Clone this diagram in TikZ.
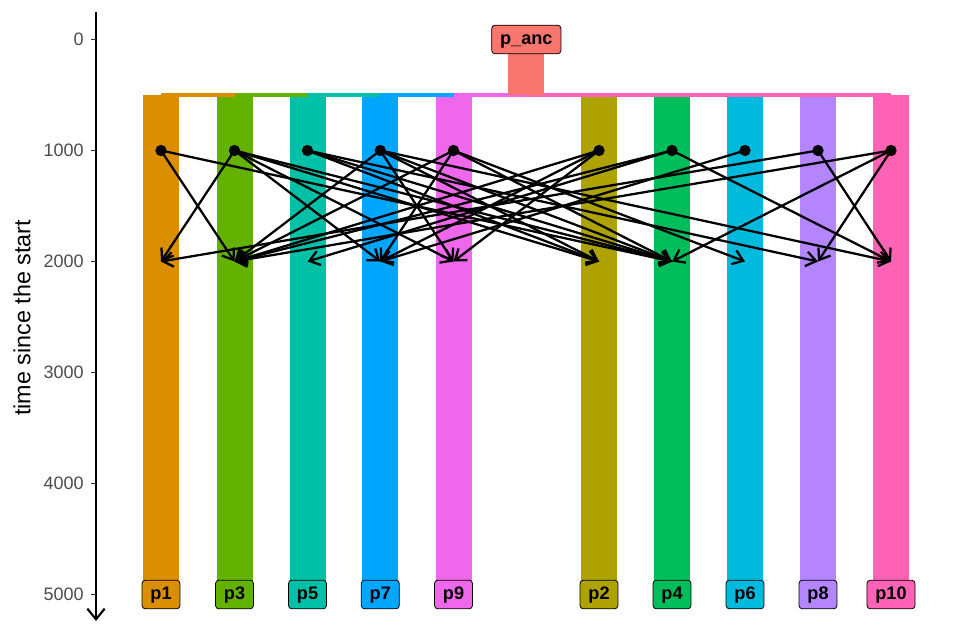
\documentclass[tikz,border=0pt]{standalone}
\usepackage{fontspec}
\setmainfont{Liberation Sans}
\usetikzlibrary{arrows.meta}
\definecolor{canc}{HTML}{F8766D}
\definecolor{cp1}{HTML}{DB8E00}
\definecolor{cp2}{HTML}{AEA200}
\definecolor{cp3}{HTML}{64B200}
\definecolor{cp4}{HTML}{00BD5C}
\definecolor{cp5}{HTML}{00C1A7}
\definecolor{cp6}{HTML}{00BADE}
\definecolor{cp7}{HTML}{00A6FF}
\definecolor{cp8}{HTML}{B385FF}
\definecolor{cp9}{HTML}{EF67EB}
\definecolor{cp10}{HTML}{FF63B6}
\tikzset{
  flow/.style={line width=1.7pt, -{Straight Barb[length=7.5pt,width=11pt]}},
  dotnode/.style={circle, fill=black, inner sep=0pt, minimum size=8.5pt},
  poplabel/.style={draw=black, line width=0.6pt, rounded corners=2.5pt,
    font=\bfseries\fontsize{13.6}{14}\selectfont, inner xsep=6.3pt, inner ysep=0pt,
    text height=10pt, text depth=3.2pt, minimum height=21.5pt},
  ticklab/.style={anchor=east, text=black!70, font=\fontsize{13.5}{14}\selectfont, inner sep=0pt},
  tickmark/.style={draw=black!80, line width=0.8pt},
  bar/.style={line width=3.5pt},
}
\begin{document}
\begin{tikzpicture}[x=0.75pt,y=-0.75pt]
\useasboundingbox (0,0) rectangle (960,640);
% population columns
\foreach \n/\x in {1/161,3/234.5,5/307.5,7/380.3,9/453.5,2/599,4/672,6/745,8/818,10/891}{
  \fill[cp\n] (\x-18,95) rectangle (\x+18,594.5);
}
% split bars
\foreach \n/\x in {1/161,3/234.5,5/307.5,7/380.3,9/453.5,2/599,4/672,6/745,8/818,10/891}{
  \draw[cp\n, bar] (\x,95) -- (526.3,95);
}
% ancestral column
\fill[canc] (508.3,39.5) rectangle (544.3,95);
% axis
\draw[line width=1.6pt, -{Straight Barb[length=8pt,width=13pt]}] (96,12) -- (96,621);
\foreach \t/\y in {0/39.5,1000/150.5,2000/261.5,3000/372.5,4000/483.5,5000/594.5}{
  \node[ticklab] (tick\t) at (84,\y) {\t};
  \draw[tickmark] (90.5,\y) -- (96,\y);
}
\node[rotate=90, font=\fontsize{17.5}{18}\selectfont] (ytitle) at (22,318) {time since the start};
% gene-flow start points and end points
\foreach \n/\x in {1/161,3/234.5,5/307.5,7/380.3,9/453.5,2/599,4/672,6/745,8/818,10/891}{
  \node[dotnode] (d\n) at (\x,150.5) {};
  \coordinate (t\n) at (\x,261.5);
}
\foreach \a/\b in {1/3,1/4,
  3/1,3/7,3/9,3/2,3/4,
  5/2,5/4,5/8,
  7/3,7/9,7/2,7/4,7/10,
  9/3,9/7,9/4,9/6,
  2/3,2/7,2/9,
  4/3,4/5,4/10,
  6/7,
  8/10,8/1,
  10/8,10/4,10/3}{
  \draw[flow] (d\a.center) -- (t\b);
}
% labels
\node[poplabel, fill=canc] (lanc) at (526.3,39.5) {p\_anc};
\foreach \n/\x in {1/161,3/234.5,5/307.5,7/380.3,9/453.5,2/599,4/672,6/745,8/818,10/891}{
  \node[poplabel, fill=cp\n] (l\n) at (\x,594.5) {p\n};
}
\end{tikzpicture}
\end{document}
